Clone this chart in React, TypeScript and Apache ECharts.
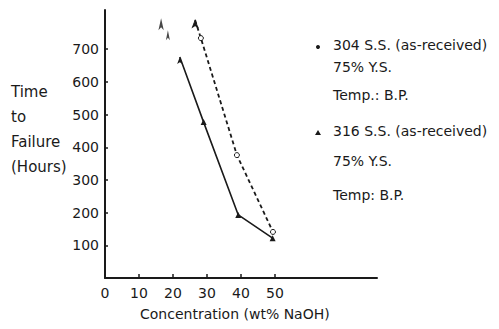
import React, { useEffect, useRef } from "react";
import * as echarts from "echarts";

const yTicks = [100, 200, 300, 400, 500, 600, 700];
const xTicks = [0, 10, 20, 30, 40, 50];
const xTickMarks = [10, 20, 30, 40, 50];

// 316 S.S. (as-received), 75% Y.S., Temp: B.P. — solid line, triangles
const ss316: [number, number][] = [
  [22, 676],
  [29, 477],
  [39.2, 193],
  [49.3, 122],
];
// 304 S.S. (as-received), 75% Y.S., Temp.: B.P. — dashed line, circles
const ss304: [number, number][] = [
  [26.5, 789],
  [28.2, 734],
  [38.8, 376],
  [49.4, 141],
];
// run-out arrows near the top
const runouts: [number, number][] = [
  [16.5, 795],
  [18.5, 758],
];

const legendLines = [
  "304 S.S. (as-received)",
  "75% Y.S.",
  "Temp.: B.P.",
  "316 S.S. (as-received)",
  "75% Y.S.",
  "Temp: B.P.",
];
const yTitle = ["Time", "to", "Failure", "(Hours)"];
const xTitle = "Concentration (wt% NaOH)";

const FONT = "DejaVu Sans";
const INK = "#1a1a1a";

export default function App() {
  const ref = useRef<HTMLDivElement>(null);
  useEffect(() => {
    if (!ref.current) return;
    const chart = echarts.init(ref.current, null, { renderer: "svg" });
    const legendY = [47, 69, 97, 133, 163, 197];
    const yTitleY = [93, 118, 143, 168];
    chart.setOption({
      animation: false,
      backgroundColor: "#fff",
      grid: { left: 105, right: 122, top: 10, bottom: 51, containLabel: false },
      xAxis: {
        type: "value",
        min: 0,
        max: 80,
        interval: 10,
        axisLine: { lineStyle: { color: INK, width: 2 } },
        axisTick: {
          show: true,
          inside: true,
          length: 4,
          customValues: xTickMarks,
          lineStyle: { color: INK, width: 1.5 },
        },
        splitLine: { show: false },
        axisLabel: {
          margin: 8,
          color: INK,
          fontFamily: FONT,
          fontSize: 14,
          customValues: xTicks,
        },
      },
      yAxis: {
        type: "value",
        min: 0,
        max: 820,
        interval: 100,
        axisLine: { show: true, lineStyle: { color: INK, width: 2 } },
        axisTick: {
          show: true,
          inside: true,
          length: 3,
          customValues: yTicks,
          lineStyle: { color: INK, width: 1.5 },
        },
        splitLine: { show: false },
        axisLabel: {
          margin: 6,
          color: INK,
          fontFamily: FONT,
          fontSize: 14,
          customValues: yTicks,
        },
      },
      series: [
        {
          type: "line",
          data: ss316.map((d, i) =>
            i === 0
              ? { value: d, symbol: "arrow", symbolSize: [4, 7] }
              : { value: d }
          ),
          symbol: "triangle",
          symbolSize: 6,
          showAllSymbol: true,
          itemStyle: { color: INK },
          lineStyle: { color: INK, width: 1.6, type: "solid" },
        },
        {
          type: "line",
          data: ss304.map((d, i) =>
            i === 0
              ? { value: d, symbol: "arrow", symbolSize: [4, 7], itemStyle: { color: INK } }
              : { value: d }
          ),
          symbol: "circle",
          symbolSize: 5,
          showAllSymbol: true,
          itemStyle: { color: "#fff", borderColor: INK, borderWidth: 1 },
          lineStyle: { color: INK, width: 1.8, type: [4, 3] },
        },
        {
          type: "scatter",
          data: runouts.map((d, i) => ({
            value: d,
            symbolSize: i === 0 ? [4, 12] : [3, 10],
          })),
          symbol: "arrow",
          itemStyle: { color: INK },
        },
      ],
      graphic: [
        ...yTitle.map((t, i) => ({
          type: "text",
          left: 11,
          top: yTitleY[i] - 9,
          style: { text: t, fill: INK, font: `15px "${FONT}"` },
        })),
        {
          type: "text",
          left: 140,
          top: 307,
          style: { text: xTitle, fill: INK, font: `14px "${FONT}"` },
        },
        ...legendLines.map((t, i) => ({
          type: "text",
          left: 333,
          top: legendY[i] - 9,
          style: { text: t, fill: INK, font: `14px "${FONT}"` },
        })),
        { type: "circle", shape: { cx: 318, cy: 47, r: 2 }, style: { fill: INK } },
        {
          type: "polygon",
          shape: { points: [[318, 130], [315, 135], [321, 135]] },
          style: { fill: INK },
        },
      ],
    });
    return () => chart.dispose();
  }, []);
  return <div ref={ref} style={{ width: 499, height: 329, margin: -8 }} />;
}
